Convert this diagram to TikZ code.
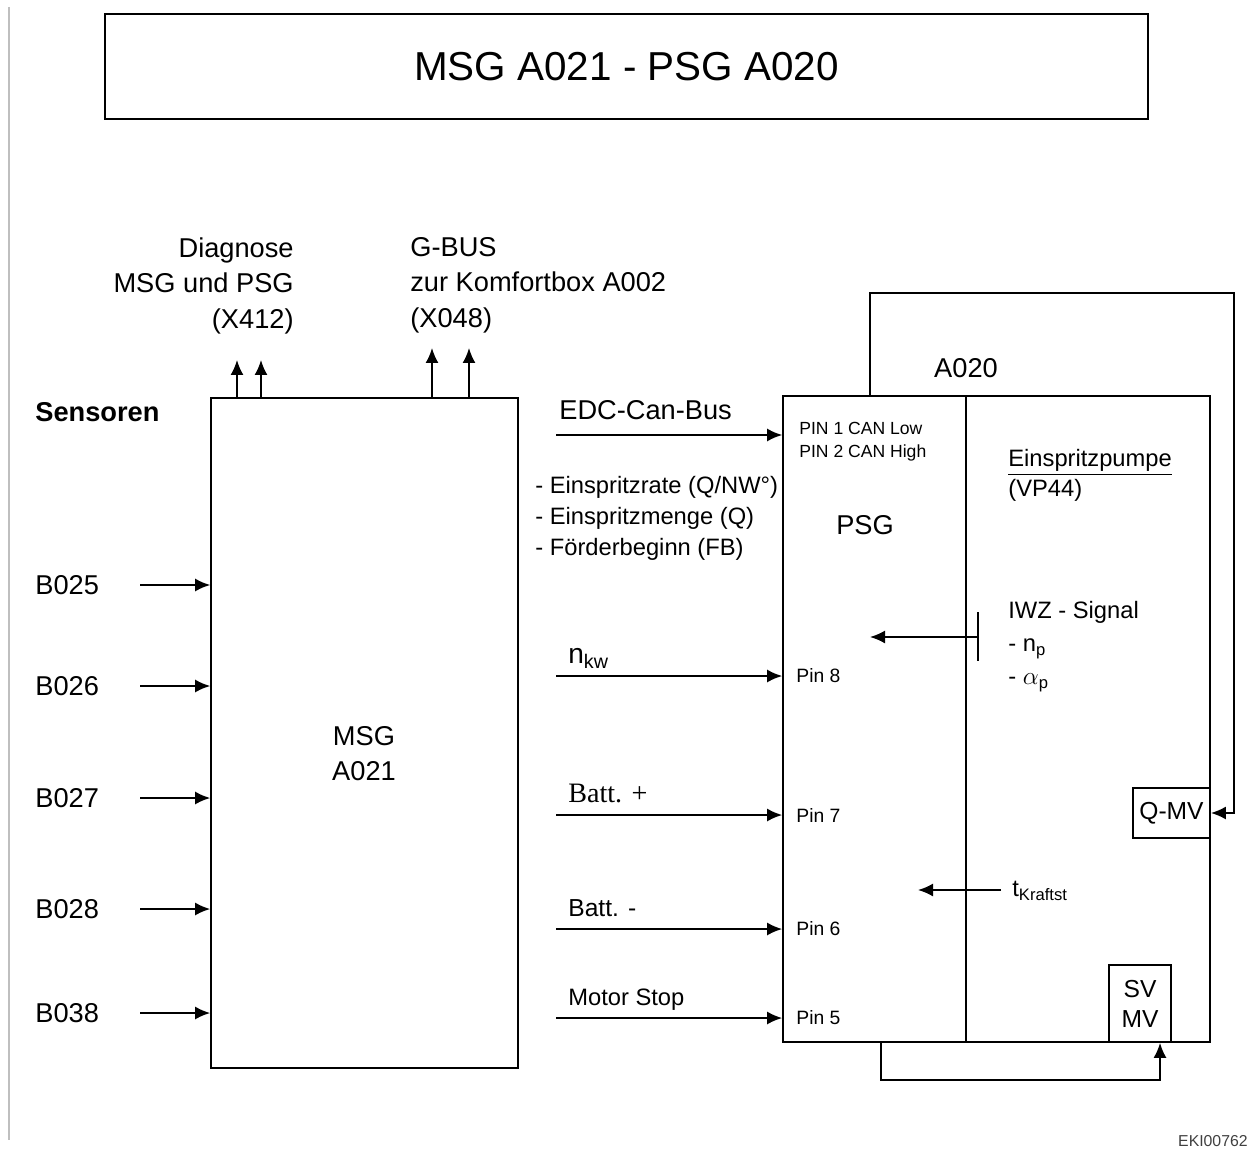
\documentclass[tikz,border=0pt]{standalone}
\usepackage{fontspec}
\setmainfont{Liberation Sans}
\newfontfamily\timesfont{Liberation Serif}
\usetikzlibrary{arrows.meta,positioning}

\newcommand{\fs}[1]{\fontsize{#1}{1.25\dimexpr #1pt\relax}\selectfont}

\begin{document}
\begin{tikzpicture}[x=0.02cm, y=-0.02cm, every node/.style={font=\fs{15.5}, inner sep=0pt}]
        \tikzstyle{box} = [rectangle, draw=black, line width=1pt]
        \tikzstyle{arrow} = [-{Latex[length=3mm, width=2.6mm]}, line width=1pt]
        \tikzstyle{pin} = [font=\fs{11}, anchor=mid west]

        \useasboundingbox (0,0) rectangle (1253,1151);
        \draw [gray!50, line width=1pt] (9,7) -- (9,1140);

        % title
        \node (title) [box, minimum width=20.86cm, minimum height=2.1cm, font=\fs{23}] at (626.5,66.5) {MSG A021 - PSG A020};

        % MSG
        \node (msg) [box, minimum width=6.14cm, minimum height=13.4cm] at (364.5,733) {};
        \node (msglabel) [align=center, font={\fontsize{15.5}{20}\selectfont}] at (364,754) {MSG\\A021};

        % sensors
        \node (sens) [anchor=mid west, font=\bfseries\fs{15.5}] at (35,417) {Sensoren};
        \foreach \name/\y in {B025/585, B026/686, B027/798, B028/909, B038/1013} {
            \node (\name) [anchor=mid west] at (35,\y+5) {\name};
            \coordinate (\name-start) at (140,\y);
            \draw [arrow] (\name-start) -- (msg.west |- \name-start);
        }

        % diagnose and G-BUS
        \node (diag) [anchor=north east, align=right, font={\fontsize{15.5}{20.2}\selectfont}] at (294,237) {Diagnose\\MSG und PSG\\(X412)};
        \node (gbus) [anchor=north west, align=left, font={\fontsize{15.5}{20.2}\selectfont}] at (410,237) {G-BUS\\zur Komfortbox A002\\(X048)};
        \coordinate (diag1) at (237,360);
        \coordinate (diag2) at (261,360);
        \coordinate (gbus1) at (432,348);
        \coordinate (gbus2) at (469,348);
        \foreach \c in {diag1, diag2, gbus1, gbus2}
            \draw [arrow] (msg.north -| \c) -- (\c);

        % PSG / pump
        \node (psg) [box, minimum width=3.66cm, minimum height=12.92cm] at (874.5,719) {};
        \node (pump) [box, minimum width=4.88cm, minimum height=12.92cm] at (1088,719) {};
        \node (a020) [font=\fs{15.5}] at (966,368) {A020};
        \node (psglabel) [font=\fs{15.5}] at (865,525) {PSG};
        \node (canpins) [anchor=north west, align=left, font={\fontsize{10}{13}\selectfont}] at (799,422) {PIN 1 CAN Low\\PIN 2 CAN High};
        \node (vp44) [anchor=north west, align=left, font={\fontsize{13.5}{17}\selectfont}] at (1008,449) {\underline{Einspritzpumpe}\\(VP44)};
        \node (qmv) [box, minimum width=1.54cm, minimum height=1cm, font=\fs{14}] at (1171.5,813) {Q-MV};
        \node (svmv) [box, minimum width=1.24cm, minimum height=1.54cm, align=center, font={\fontsize{14}{17}\selectfont}] at (1140,1003.5) {SV\\MV};

        % inputs to PSG
        \node (can) [anchor=mid west] at (559,415) {EDC-Can-Bus};
        \node (values) [anchor=north west, align=left, font={\fontsize{13.5}{17.6}\selectfont}] at (535,476) {- Einspritzrate (Q/NW°)\\- Einspritzmenge (Q)\\- Förderbeginn (FB)};
        \node (nkw) [anchor=mid west, font=\fs{16}] at (568,659) {n\textsubscript{kw}};
        \node (battp) [anchor=mid west, font=\timesfont\fs{16}] at (568,798) {Batt. +};
        \node (battm) [anchor=mid west, font=\fs{14}] at (568,912) {Batt. -};
        \node (stop) [anchor=mid west, font=\fs{13.5}] at (568,1001) {Motor Stop};
        \node (pin8) [pin] at (796,678) {Pin 8};
        \node (pin7) [pin] at (796,818) {Pin 7};
        \node (pin6) [pin] at (796,931) {Pin 6};
        \node (pin5) [pin] at (796,1020) {Pin 5};
        \foreach \name/\y in {can/435, nkw/676, battp/815, battm/929, stop/1018} {
            \coordinate (\name-start) at (556,\y);
            \draw [arrow] (\name-start) -- (psg.west |- \name-start);
        }

        % signals inside
        \node (iwz) [anchor=north west, align=left, font={\fontsize{13.5}{18.7}\selectfont}] at (1008,601) {IWZ - Signal\\- n\textsubscript{p}\\- $\alpha$\textsubscript{p}};
        \coordinate (iwzbar) at (978,637);
        \coordinate (iwzend) at (870,637);
        \draw [line width=1pt] (978,612) -- (978,661);
        \draw [arrow] (iwzbar) -- (iwzend);
        \node (tkr) [anchor=mid west, font=\fs{13.5}] at (1012,892) {t\textsubscript{Kraftst}};
        \coordinate (tkrstart) at (1001,890);
        \coordinate (tkrend) at (918,890);
        \draw [arrow] (tkrstart) -- (tkrend);

        % feedback lines
        \coordinate (topl) at (870,293);
        \coordinate (topr) at (1234,293);
        \draw [arrow] (psg.north -| topl) -- (topl) -- (topr) |- (qmv.east);
        \coordinate (botl) at (881,1080);
        \coordinate (botr) at (1160,1080);
        \draw [arrow] (psg.south -| botl) -- (botl) -- (botr) -- (svmv.south -| botr);

        \node (code) [anchor=mid east, font=\fs{9}, text=black!75] at (1248,1142) {EKI00762};
    \end{tikzpicture}
\end{document}
